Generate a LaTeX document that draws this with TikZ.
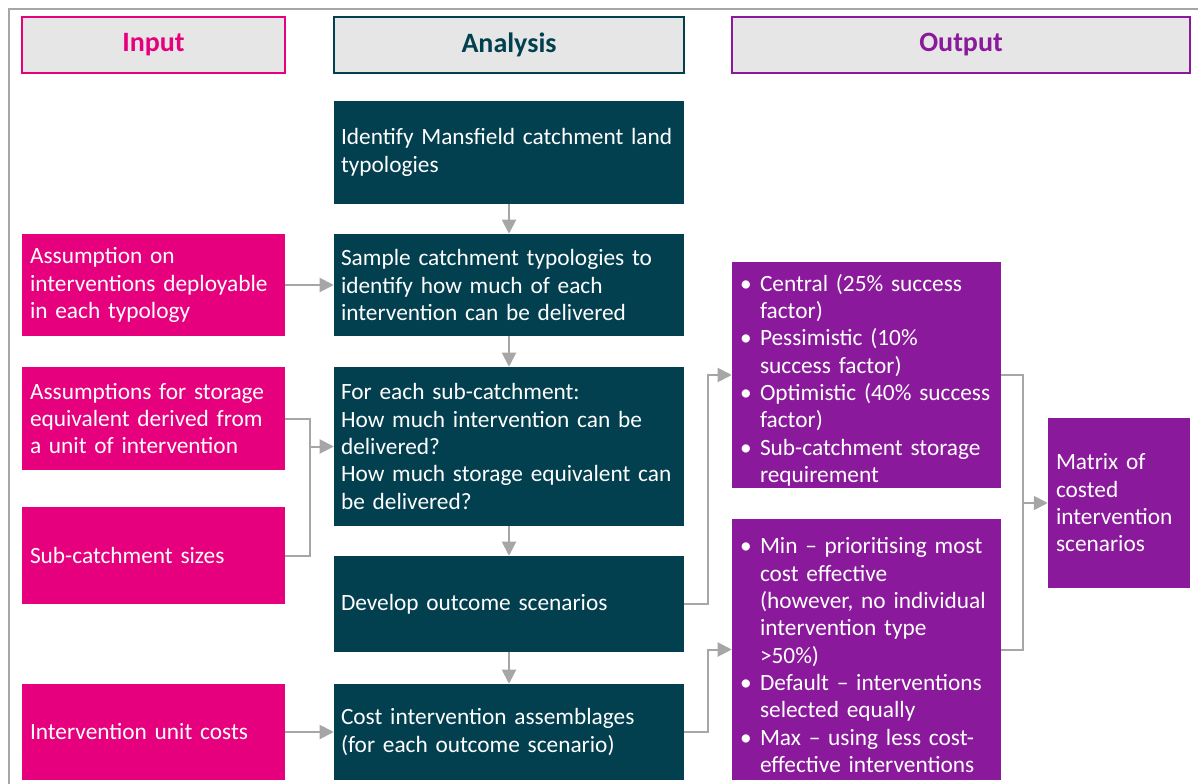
\documentclass[tikz,border=0pt]{standalone}
\usepackage{fontspec}
\setmainfont{Carlito}
\usepackage{enumitem}
\usetikzlibrary{arrows.meta}
\definecolor{inpink}{HTML}{E6007E}
\definecolor{anteal}{HTML}{023F4F}
\definecolor{outpurple}{HTML}{8B199B}
\definecolor{hdrgrey}{HTML}{E6E6E6}
\definecolor{lnkgrey}{HTML}{A6A6A6}
\newcommand{\bullets}[1]{\begin{itemize}[label=\textbullet,leftmargin=15pt,labelwidth=15pt,labelsep=0pt,align=left,nosep]#1\end{itemize}}
\begin{document}
\begin{tikzpicture}[x=0.75pt,y=-0.75pt,
	every node/.style={font=\fontsize{17.5}{20.5}\selectfont,text=white,align=left,inner ysep=0pt},
	hdr/.style={draw,line width=1.5pt,fill=hdrgrey,minimum height=42pt,font=\fontsize{21}{25}\selectfont\bfseries},
	inbox/.style={fill=inpink,inner xsep=6pt,text width=185.25pt},
	anbox/.style={fill=anteal,inner xsep=5.25pt,text width=252pt},
	outbox/.style={fill=outpurple,inner xsep=6pt,text width=189.75pt},
	link/.style={draw=lnkgrey,line width=1.5pt},
	arr/.style={link,-{Triangle[length=10.5pt,width=10.5pt]}}]
	\useasboundingbox (0,0) rectangle (1198,784);
	\draw[lnkgrey,line width=1.5pt] (9,800) -- (9,9) -- (1210,9);
	% column headers
	\node[hdr,draw=inpink,text=inpink,minimum width=197.25pt] (hin) at (153.5,45) {Input};
	\node[hdr,draw=anteal,text=anteal,minimum width=262.5pt] (han) at (509,45) {Analysis};
	\node[hdr,draw=outpurple,text=outpurple,minimum width=343.5pt] (hout) at (961,45) {Output};
	% analysis steps
	\node[anbox,minimum height=77.25pt] (a1) at (509,152.5) {Identify Mansfield catchment land\\typologies};
	\node[anbox,minimum height=76.5pt] (a2) at (509,285) {Sample catchment typologies to\\identify how much of each\\intervention can be delivered};
	\node[anbox,minimum height=119.25pt] (a3) at (509,446.5) {For each sub-catchment:\\How much intervention can be\\delivered?\\How much storage equivalent can\\be delivered?};
	\node[anbox,minimum height=72pt] (a4) at (509,604) {Develop outcome scenarios};
	\node[anbox,minimum height=72pt] (a5) at (509,732) {Cost intervention assemblages\\(for each outcome scenario)};
	% inputs
	\node[inbox,minimum height=76.5pt] (i1) at (153.5,285) {Assumption on\\interventions deployable\\in each typology};
	\node[inbox,minimum height=77.25pt] (i2) at (153.5,418.5) {Assumptions for storage\\equivalent derived from\\a unit of intervention};
	\node[inbox,minimum height=72.75pt] (i3) at (153.5,555.5) {Sub-catchment sizes};
	\node[inbox,minimum height=72pt] (i4) at (153.5,732) {Intervention unit costs};
	% outputs
	\node[outbox,minimum height=169.5pt] (o1) at (866.5,375) {\bullets{%
		\item Central (25\% success\newline factor)
		\item Pessimistic (10\%\newline success factor)
		\item Optimistic (40\% success\newline factor)
		\item Sub-catchment storage\newline requirement}};
	\node[outbox,minimum height=195.75pt] (o2) at (866.5,649.5) {\bullets{%
		\item Min -- prioritising most\newline cost effective\newline (however, no individual\newline intervention type\newline >50\%)
		\item Default -- interventions\newline selected equally
		\item Max -- using less cost-\newline effective interventions}};
	\node[fill=outpurple,inner xsep=6pt,text width=94.5pt,minimum height=127.5pt] (mat) at (1119,503) {Matrix of\\costed\\intervention\\scenarios};
	% links
	\draw[arr] (a1) -- (a2);
	\draw[arr] (a2) -- (a3);
	\draw[arr] (a3) -- (a4);
	\draw[arr] (a4) -- (a5);
	\draw[arr] (i1) -- (a2);
	\draw[arr] (i4) -- (a5);
	\coordinate (jin) at (310,446.5);
	\draw[link] (i2.east) -| (jin) |- (i3.east);
	\draw[arr] (jin) -- (a3.west |- jin);
	\draw[arr] (a4.east) -- ++(24,0) |- (o1.west);
	\draw[arr] (a5.east) -- ++(24,0) |- (o2.west);
	\coordinate (jout) at (1023,503);
	\draw[link] (o1.east) -| (jout) |- (o2.east);
	\draw[arr] (jout) -- (mat.west |- jout);
\end{tikzpicture}
\end{document}
